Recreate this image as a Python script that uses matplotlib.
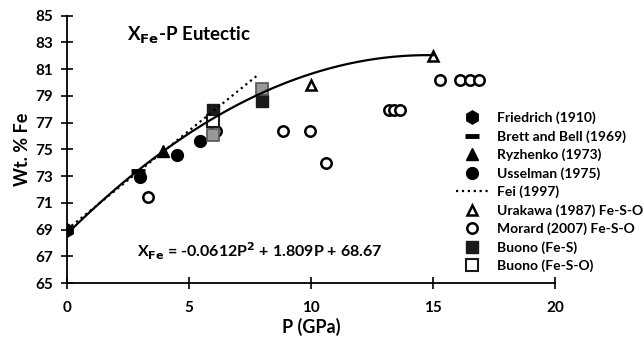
import matplotlib.pyplot as plt
import numpy as np

plt.rcParams['font.family'] = ['Lato', 'DejaVu Sans']
plt.rcParams['font.weight'] = 'bold'

# data (P in GPa, wt.% Fe)
friedrich_p = [0]
friedrich_fe = [69.0]
brett_p = [2.9]
brett_fe = [73.4]
ryzhenko_p = [3.95]
ryzhenko_fe = [74.9]
usselman_p = [3.0, 4.5, 5.45]
usselman_fe = [72.9, 74.6, 75.6]
fei_p = [0, 7.85]
fei_fe = [69.0, 80.6]
urakawa_p = [10.0, 15.0]
urakawa_fe = [79.8, 82.0]
morard_p = [3.3, 6.1, 8.85, 9.95, 10.6, 13.2, 13.4, 13.65, 15.3, 16.1, 16.5, 16.9]
morard_fe = [71.45, 76.35, 76.4, 76.4, 73.95, 77.9, 77.9, 77.9, 80.2, 80.2, 80.2, 80.2]
buono_fes_p = [6.0, 8.0]
buono_fes_fe = [77.95, 78.6]
buono_feso_p = [6.0]
buono_feso_fe = [77.1]
buono_gray_p = [6.0, 8.0]
buono_gray_fe = [76.1, 79.5]

fit = [-0.0612, 1.809, 68.67]

fig = plt.figure(figsize=(6.44, 3.41), dpi=100)
ax = fig.add_axes([0.104, 0.17, 0.758, 0.7845])

ms = 8.5
ax.plot(friedrich_p, friedrich_fe, 'h', color='black', ms=ms + 1, ls='none',
        label='Friedrich (1910)', zorder=3)
ax.plot(brett_p, brett_fe, '_', color='black', ms=10, mew=3.5, ls='none',
        label='Brett and Bell (1969)', zorder=3)
ax.plot(ryzhenko_p, ryzhenko_fe, '^', color='black', ms=ms, ls='none',
        label='Ryzhenko (1973)', zorder=3)
ax.plot(usselman_p, usselman_fe, 'o', color='black', ms=ms, ls='none',
        label='Usselman (1975)', zorder=3)
ax.plot(fei_p, fei_fe, ':', color='black', lw=1.6, label='Fei (1997)', zorder=5)
ax.plot(urakawa_p, urakawa_fe, '^', mfc='white', mec='black', mew=1.8, ms=ms - 1,
        ls='none', label='Urakawa (1987) Fe-S-O', zorder=3)
ax.plot(morard_p, morard_fe, 'o', mfc='white', mec='black', mew=1.8, ms=ms - 1,
        ls='none', label='Morard (2007) Fe-S-O', zorder=3)
ax.plot(buono_fes_p, buono_fes_fe, 's', color='#1a1a1a', ms=ms, ls='none',
        label='Buono (Fe-S)', zorder=4)
ax.plot(buono_feso_p, buono_feso_fe, 's', mfc='white', mec='#1a1a1a', mew=1.5, ms=ms,
        ls='none', label='Buono (Fe-S-O)', zorder=4)
ax.plot(buono_gray_p, buono_gray_fe, 's', mfc='#999999', mec='#555555', mew=1.2, ms=ms,
        ls='none', zorder=4)

pp = np.linspace(0, 15, 200)
ax.plot(pp, np.polyval(fit, pp), '-', color='black', lw=1.6, zorder=5)

ax.set_xlim(0, 20)
ax.set_ylim(65, 85)
ax.set_xticks([0, 5, 10, 15, 20])
ax.set_yticks(range(65, 86, 2))
ax.tick_params(direction='inout', length=8, width=1.2, labelsize=11)
ax.tick_params(axis='y', pad=6)
ax.tick_params(axis='x', pad=9)
for s in ['top', 'right']:
    ax.spines[s].set_visible(False)
for s in ['left', 'bottom']:
    ax.spines[s].set_linewidth(1.3)
ax.set_xlabel('P (GPa)', fontsize=13, fontweight='bold', labelpad=2)
ax.set_ylabel('Wt. % Fe', fontsize=13, fontweight='bold', labelpad=3)

ax.text(2.45, 83.55, r'X$_{\mathbf{Fe}}$-P Eutectic', fontsize=13.5, fontweight='bold',
        va='center', ha='left')
ax.text(2.85, 67.4, r'X$_{\mathbf{Fe}}$ = -0.0612P$^{\mathbf{2}}$ + 1.809P + 68.67',
        fontsize=11.5, fontweight='bold', va='center', ha='left')

ax.legend(loc='upper left', bbox_to_anchor=(0.698, 0.693), bbox_transform=fig.transFigure,
          frameon=False, fontsize=10, handlelength=2.3, handletextpad=0.6,
          labelspacing=0.42, borderpad=0, numpoints=1)

fig.savefig('out.png', dpi=100)
